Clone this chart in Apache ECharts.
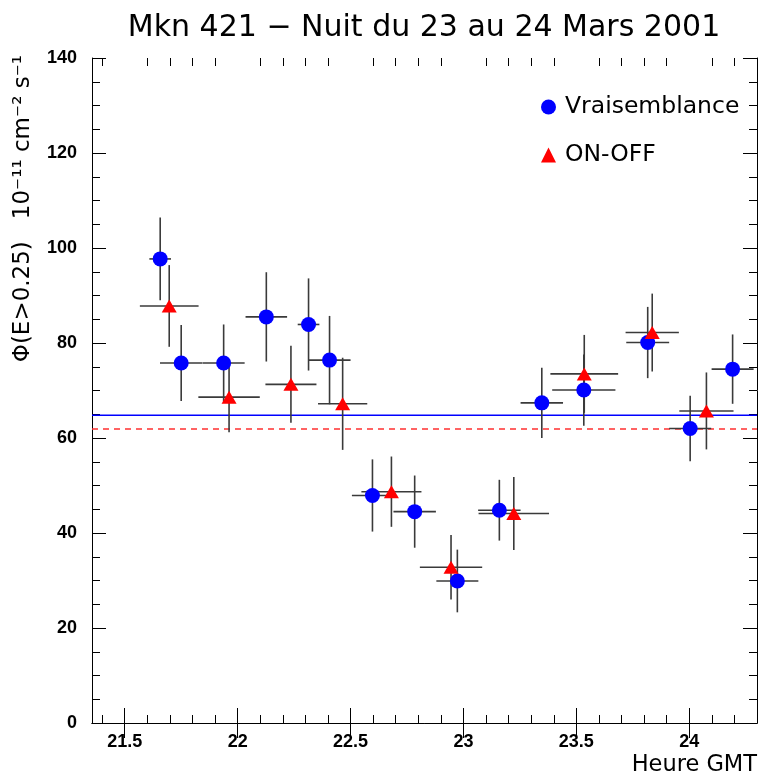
<!DOCTYPE html>
<html>
<head>
<meta charset="utf-8">
<script src="https://cdn.jsdelivr.net/npm/echarts@6/dist/echarts.min.js"></script>
<style>
html,body{margin:0;padding:0;background:#fff;}
#c{width:758px;height:776px;}
</style>
</head>
<body>
<div id="c"></div>
<script>
// ---- Data ----
const titleText = 'Mkn 421 \u2212 Nuit du 23 au 24 Mars 2001';
const xName = 'Heure GMT';
const yName = '\u03A6(E>0.25)   10\u207B\u00B9\u00B9 cm\u207B\u00B2 s\u207B\u00B9';

// Vraisemblance (blue circles)
const vrX    = [21.657, 21.750, 21.938, 22.127, 22.314, 22.407, 22.597, 22.784, 22.973, 23.159, 23.347, 23.533, 23.816, 24.004, 24.192];
const vrY    = [97.7, 75.8, 75.8, 85.5, 83.9, 76.4, 47.9, 44.5, 29.9, 44.8, 67.4, 70.1, 80.1, 62.0, 74.5];
const vrXerr = [0.048, 0.094, 0.093, 0.092, 0.048, 0.093, 0.091, 0.094, 0.093, 0.094, 0.094, 0.140, 0.095, 0.093, 0.093];
const vrYerr = [8.7, 8.0, 8.1, 9.4, 9.7, 9.3, 7.6, 7.6, 6.6, 6.4, 7.4, 7.5, 7.5, 6.9, 7.3];

// ON-OFF (red triangles)
const ooX    = [21.697, 21.962, 22.236, 22.465, 22.681, 22.945, 23.223, 23.535, 23.836, 24.076];
const ooY    = [87.8, 68.6, 71.3, 67.2, 48.7, 32.8, 44.1, 73.5, 82.2, 65.7];
const ooXerr = [0.130, 0.136, 0.113, 0.109, 0.133, 0.138, 0.156, 0.150, 0.118, 0.120];
const ooYerr = [8.6, 7.4, 8.1, 9.7, 7.4, 6.8, 7.7, 8.2, 8.2, 8.1];

// Mean flux lines
const meanVr = 64.8;
const meanOo = 61.9;

// Axis ticks
const xMajorTicks = [21.5, 22, 22.5, 23, 23.5, 24];
const xMinorTicks = [21.4, 21.6, 21.7, 21.8, 21.9, 22.1, 22.2, 22.3, 22.4, 22.6, 22.7, 22.8, 22.9,
                     23.1, 23.2, 23.3, 23.4, 23.6, 23.7, 23.8, 23.9, 24.1, 24.2];
const xMin = 21.355, xMax = 24.3;
const yMin = 0, yMax = 140, yStep = 20;

// ---- Chart ----
const chart = echarts.init(document.getElementById('c'), null, {renderer: 'canvas'});

function pts(xs, ys) { return xs.map((x, i) => [x, ys[i]]); }
function errPts(xs, ys, dx, dy) { return xs.map((x, i) => [x, ys[i], dx[i], dy[i]]); }

const errColor = '#3a3a3a';
function errRender(params, api) {
  const x = api.value(0), y = api.value(1), dx = api.value(2), dy = api.value(3);
  const l = api.coord([x - dx, y]), r = api.coord([x + dx, y]);
  const t = api.coord([x, y + dy]), b = api.coord([x, y - dy]);
  const st = {stroke: errColor, lineWidth: 1.6};
  return {
    type: 'group',
    children: [
      {type: 'line', shape: {x1: l[0], y1: l[1], x2: r[0], y2: r[1]}, style: st},
      {type: 'line', shape: {x1: t[0], y1: t[1], x2: b[0], y2: b[1]}, style: st}
    ]
  };
}

const gridRect = {left: 92, right: 1, top: 58, bottom: 53};
const labelFont = {fontFamily: 'Liberation Sans', fontWeight: 'bold', fontSize: 18, color: '#000'};
const axLine = {show: true, lineStyle: {color: '#000', width: 1}};

const option = {
  animation: false,
  backgroundColor: '#fff',
  title: {
    text: titleText,
    left: 419, top: 8, textAlign: 'center',
    textStyle: {fontFamily: 'DejaVu Sans', fontWeight: 'normal', fontSize: 30, color: '#000'}
  },
  legend: {
    orient: 'vertical',
    left: 536, top: 90,
    itemWidth: 15, itemHeight: 15, itemGap: 24,
    data: [{name: 'Vraisemblance', icon: 'circle'}, {name: 'ON-OFF', icon: 'triangle'}],
    textStyle: {fontFamily: 'DejaVu Sans', fontSize: 23.5, color: '#000', padding: [0, 0, 0, 4]}
  },
  grid: [
    Object.assign({}, gridRect),
    Object.assign({}, gridRect)
  ],
  xAxis: [
    { // bottom major + labels
      type: 'value', gridIndex: 0, position: 'bottom', min: xMin, max: xMax,
      axisLine: axLine,
      axisTick: {show: true, inside: true, length: 15, customValues: xMajorTicks, lineStyle: {color: '#000'}},
      axisLabel: Object.assign({show: true, margin: 10, customValues: xMajorTicks}, labelFont),
      splitLine: {show: false}
    },
    { // top major
      type: 'value', gridIndex: 0, position: 'top', min: xMin, max: xMax,
      axisLine: axLine,
      axisTick: {show: true, inside: true, length: 15, customValues: xMajorTicks, lineStyle: {color: '#000'}},
      axisLabel: {show: false},
      splitLine: {show: false}
    },
    { // bottom minor
      type: 'value', gridIndex: 1, position: 'bottom', min: xMin, max: xMax,
      axisLine: {show: false},
      axisTick: {show: true, inside: true, length: 8, customValues: xMinorTicks, lineStyle: {color: '#000'}},
      axisLabel: {show: false},
      splitLine: {show: false}
    },
    { // top minor
      type: 'value', gridIndex: 1, position: 'top', min: xMin, max: xMax,
      axisLine: {show: false},
      axisTick: {show: true, inside: true, length: 8, customValues: xMinorTicks, lineStyle: {color: '#000'}},
      axisLabel: {show: false},
      splitLine: {show: false}
    }
  ],
  yAxis: [
    {
      type: 'value', gridIndex: 0, position: 'left', min: yMin, max: yMax, interval: yStep,
      axisLine: axLine,
      axisTick: {show: true, inside: true, length: 14, lineStyle: {color: '#000'}},
      minorTick: {show: true, splitNumber: 4, length: 8, lineStyle: {color: '#000'}},
      axisLabel: Object.assign({show: true, margin: 15}, labelFont),
      splitLine: {show: false}
    },
    {
      type: 'value', gridIndex: 0, position: 'right', min: yMin, max: yMax, interval: yStep,
      axisLine: axLine,
      axisTick: {show: true, inside: true, length: 14, lineStyle: {color: '#000'}},
      minorTick: {show: true, splitNumber: 4, length: 8, lineStyle: {color: '#000'}},
      axisLabel: {show: false},
      splitLine: {show: false}
    },
    {
      type: 'value', gridIndex: 1, min: yMin, max: yMax, show: false
    }
  ],
  graphic: [
    {
      type: 'text', x: 23, y: 55, rotation: Math.PI / 2,
      style: {text: yName, align: 'right', verticalAlign: 'middle',
              font: '23px "DejaVu Sans"', fill: '#000'}
    },
    {
      type: 'text', x: 757, y: 765,
      style: {text: xName, align: 'right', verticalAlign: 'middle',
              font: '22.5px "DejaVu Sans"', fill: '#000'}
    }
  ],
  series: [
    {
      name: 'meanVr', type: 'line', xAxisIndex: 0, yAxisIndex: 0,
      data: pts([xMin, xMax], [meanVr, meanVr]),
      showSymbol: false, symbol: 'none', silent: true, z: 1,
      lineStyle: {color: '#0000ff', type: 'solid', width: 1.5}
    },
    {
      name: 'meanOo', type: 'line', xAxisIndex: 0, yAxisIndex: 0,
      data: pts([xMin, xMax], [meanOo, meanOo]),
      showSymbol: false, symbol: 'none', silent: true, z: 1,
      lineStyle: {color: '#ff3030', type: [6, 5], width: 1.3}
    },
    {
      name: 'errVr', type: 'custom', xAxisIndex: 0, yAxisIndex: 0,
      renderItem: errRender, data: errPts(vrX, vrY, vrXerr, vrYerr),
      encode: {x: 0, y: 1}, z: 2, silent: true
    },
    {
      name: 'errOo', type: 'custom', xAxisIndex: 0, yAxisIndex: 0,
      renderItem: errRender, data: errPts(ooX, ooY, ooXerr, ooYerr),
      encode: {x: 0, y: 1}, z: 2, silent: true
    },
    {
      name: 'Vraisemblance', type: 'scatter', xAxisIndex: 0, yAxisIndex: 0,
      symbol: 'circle', symbolSize: 15,
      itemStyle: {color: '#0000ff', opacity: 1},
      data: pts(vrX, vrY), z: 4
    },
    {
      name: 'ON-OFF', type: 'scatter', xAxisIndex: 0, yAxisIndex: 0,
      symbol: 'triangle', symbolSize: [15, 13],
      itemStyle: {color: '#ff0000', opacity: 1},
      data: pts(ooX, ooY), z: 5
    }
  ]
};
chart.setOption(option);
</script>
</body>
</html>
